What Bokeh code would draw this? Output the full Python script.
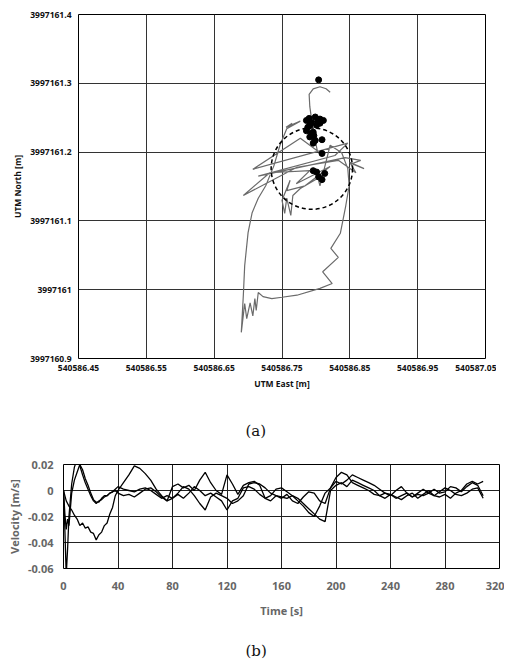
from bokeh.plotting import figure
from bokeh.models import FixedTicker, CustomJSTickFormatter, Title, Range1d
from bokeh.embed import file_html
from bokeh.resources import INLINE

# ---------------- data: (a) position plot ----------------
east_ticks = [540586.45, 540586.55, 540586.65, 540586.75, 540586.85, 540586.95, 540587.05]
north_ticks = [3997160.9, 3997161.0, 3997161.1, 3997161.2, 3997161.3, 3997161.4]

traj_east = [540586.821, 540586.815, 540586.806, 540586.796, 540586.790, 540586.791, 540586.793,
             540586.796, 540586.799, 540586.802, 540586.777, 540586.707, 540586.847, 540586.828,
             540586.715, 540586.843, 540586.866, 540586.853, 540586.871, 540586.850, 540586.859,
             540586.833, 540586.772, 540586.693, 540586.732, 540586.791, 540586.771, 540586.821,
             540586.784, 540586.757, 540586.762, 540586.750, 540586.754, 540586.757, 540586.763,
             540586.766, 540586.777, 540586.803, 540586.806, 540586.821, 540586.838, 540586.847,
             540586.849, 540586.844, 540586.836, 540586.822, 540586.833, 540586.810, 540586.824,
             540586.806, 540586.772, 540586.750, 540586.735, 540586.722, 540586.715, 540586.712,
             540586.710, 540586.707, 540586.703, 540586.698, 540586.695, 540586.690, 540586.693,
             540586.695, 540586.700, 540586.706, 540586.715, 540586.726, 540586.738, 540586.747,
             540586.757, 540586.777, 540586.756, 540586.765]
traj_north = [3997161.287, 3997161.292, 3997161.295, 3997161.292, 3997161.284, 3997161.266, 3997161.252,
              3997161.234, 3997161.217, 3997161.202, 3997161.220, 3997161.175, 3997161.213, 3997161.195,
              3997161.165, 3997161.192, 3997161.188, 3997161.183, 3997161.176, 3997161.185, 3997161.170,
              3997161.188, 3997161.178, 3997161.137, 3997161.170, 3997161.173, 3997161.154, 3997161.179,
              3997161.151, 3997161.144, 3997161.159, 3997161.130, 3997161.111, 3997161.133, 3997161.108,
              3997161.137, 3997161.147, 3997161.162, 3997161.151, 3997161.210, 3997161.199, 3997161.176,
              3997161.151, 3997161.122, 3997161.082, 3997161.060, 3997161.047, 3997161.026, 3997161.009,
              3997161.002, 3997160.992, 3997160.989, 3997160.987, 3997160.990, 3997160.996, 3997160.970,
              3997160.987, 3997160.962, 3997160.981, 3997160.958, 3997160.980, 3997160.938, 3997160.992,
              3997161.035, 3997161.083, 3997161.112, 3997161.133, 3997161.151, 3997161.180, 3997161.210,
              3997161.234, 3997161.245, 3997161.236, 3997161.242]

fix_east = [540586.804, 540586.786, 540586.799, 540586.806, 540586.811, 540586.791, 540586.801,
            540586.786, 540586.796, 540586.791, 540586.799, 540586.809, 540586.790, 540586.794,
            540586.803, 540586.788, 540586.806, 540586.793, 540586.797, 540586.796, 540586.809,
            540586.796, 540586.801, 540586.804, 540586.809, 540586.813]
fix_north = [3997161.305, 3997161.246, 3997161.251, 3997161.248, 3997161.246, 3997161.239, 3997161.239,
             3997161.231, 3997161.229, 3997161.222, 3997161.217, 3997161.218, 3997161.249, 3997161.243,
             3997161.245, 3997161.236, 3997161.242, 3997161.227, 3997161.224, 3997161.213, 3997161.198,
             3997161.173, 3997161.171, 3997161.164, 3997161.160, 3997161.169]

cep_east = [540586.794]
cep_north = [3997161.176]
cep_radius = 0.06

# ---------------- data: (b) velocity plot ----------------
time_ticks = [0, 40, 80, 120, 160, 200, 240, 280, 320]
vel_ticks = [-0.06, -0.04, -0.02, 0, 0.02]

time_s = [0, 1, 2, 3, 4, 6, 8, 10, 12, 14, 16, 18, 20, 22, 24, 26, 28, 30, 32, 34, 36, 38,
          40, 44, 48, 52, 56, 60, 64, 68, 72, 76, 80, 84, 88, 92, 96, 100, 104, 108, 112, 116,
          120, 124, 128, 132, 136, 140, 144, 148, 152, 156, 160, 164, 168, 172, 176, 180, 184, 188,
          192, 196, 200, 204, 208, 212, 216, 220, 224, 228, 232, 236, 240, 244, 248, 252, 256, 260,
          264, 268, 272, 276, 280, 284, 288, 292, 296, 300, 304, 308]

vel_1 = [0, -0.004, -0.008, -0.010, -0.012, -0.015, -0.019, -0.022, -0.027, -0.025, -0.029, -0.028,
         -0.032, -0.033, -0.038, -0.034, -0.032, -0.027, -0.025, -0.018, -0.013, -0.004,
         0.000, 0.006, 0.012, 0.019, 0.017, 0.013, 0.008, 0.001, -0.004, -0.008,
         -0.006, -0.002, 0.003, 0.001, -0.004, -0.010, -0.015, -0.005, -0.002, -0.004,
         -0.006, -0.010, -0.008, -0.004, 0.005, 0.006, 0.005, 0.002, -0.002, -0.004,
         -0.005, -0.006, -0.004, -0.008, -0.012, -0.017, -0.020, -0.012, -0.002, 0.002,
         0.010, 0.014, 0.012, 0.006, 0.004, 0.002, 0.000, -0.003, -0.004, -0.002,
         -0.003, -0.006, -0.004, -0.002, -0.005, -0.002, 0.001, -0.002, -0.004, -0.001,
         0.002, 0.000, -0.003, -0.004, -0.002, 0.001, 0.002, -0.006]
vel_2 = [0, -0.030, -0.065, -0.045, -0.020, 0.005, 0.018, 0.024, 0.019, 0.012, 0.006, 0.001,
         -0.004, -0.008, -0.010, -0.008, -0.007, -0.005, -0.004, -0.002, -0.001, 0.000,
         -0.002, -0.004, -0.003, -0.005, -0.002, 0.001, 0.002, -0.001, -0.005, -0.008,
         0.003, 0.005, 0.002, 0.004, 0.000, 0.008, 0.014, 0.006, 0.000, -0.003,
         0.012, 0.005, -0.003, 0.004, 0.006, 0.007, 0.004, -0.006, -0.008, -0.004,
         -0.006, -0.003, -0.008, -0.010, -0.005, -0.001, -0.002, -0.008, -0.010, 0.002,
         0.007, 0.005, 0.008, 0.012, 0.010, 0.008, 0.006, 0.004, 0.001, -0.002,
         -0.004, 0.000, 0.003, -0.002, -0.005, -0.003, -0.004, -0.002, 0.001, -0.002,
         -0.001, 0.003, 0.002, -0.001, 0.003, 0.006, 0.004, -0.004]
vel_3 = [0, -0.018, -0.030, -0.022, -0.027, -0.002, 0.008, 0.014, 0.020, 0.016, 0.009, 0.004,
         -0.002, -0.007, -0.009, -0.009, -0.006, -0.004, -0.004, -0.002, -0.001, 0.001,
         0.003, 0.001, 0.000, -0.001, 0.001, 0.002, 0.000, -0.003, -0.006, -0.004,
         -0.006, -0.003, -0.006, -0.002, 0.003, 0.000, -0.004, -0.002, -0.005, -0.008,
         -0.015, -0.008, -0.006, 0.002, 0.003, 0.001, -0.003, -0.006, -0.004, 0.001,
         0.002, -0.001, -0.004, -0.006, -0.010, -0.014, -0.018, -0.022, -0.024, 0.000,
         0.004, 0.006, 0.003, 0.008, 0.006, 0.004, 0.002, 0.000, -0.004, -0.006,
         -0.003, -0.005, -0.007, -0.004, -0.002, -0.006, -0.003, 0.000, -0.004, -0.005,
         -0.003, -0.006, -0.002, 0.000, 0.005, 0.007, 0.005, 0.007]

FONT = "Open Sans"


def style_axes(p, size, color, tick_standoff_x, label_standoff_x, tick_standoff_y, label_standoff_y):
    for ax in (p.xaxis, p.yaxis):
        ax.axis_line_color = None
        ax.major_tick_line_color = None
        ax.minor_tick_line_color = None
        ax.major_tick_out = 0
        ax.major_tick_in = 0
        ax.minor_tick_out = 0
        ax.minor_tick_in = 0
        ax.major_label_text_font = FONT
        ax.major_label_text_font_size = size
        ax.major_label_text_font_style = "bold"
        ax.major_label_text_color = color
        ax.axis_label_text_font = FONT
        ax.axis_label_text_font_size = size
        ax.axis_label_text_font_style = "bold"
        ax.axis_label_text_color = color
    p.xaxis.major_label_standoff = tick_standoff_x
    p.xaxis.axis_label_standoff = label_standoff_x
    p.yaxis.major_label_standoff = tick_standoff_y
    p.yaxis.axis_label_standoff = label_standoff_y


def add_caption(p, text, offset, gap):
    spacer = Title(text=" ", text_font_size="1px", standoff=gap)
    p.add_layout(spacer, "below")
    cap = Title(text=text, align="left", offset=offset, standoff=0,
                text_font="DejaVu Serif", text_font_size="15px",
                text_font_style="normal", text_color="#111111")
    p.add_layout(cap, "below")


# ---------------- figure (a) ----------------
p1 = figure(width=496, height=446, output_backend="svg", toolbar_location=None,
            x_range=Range1d(east_ticks[0], east_ticks[-1]),
            y_range=Range1d(north_ticks[0], north_ticks[-1]),
            min_border_left=78, min_border_right=11, min_border_top=14, min_border_bottom=88)
p1.outline_line_color = "black"
p1.outline_line_width = 1

xt1 = FixedTicker(ticks=east_ticks)
yt1 = FixedTicker(ticks=north_ticks)
p1.xaxis.ticker = xt1
p1.yaxis.ticker = yt1
p1.xgrid.ticker = xt1
p1.ygrid.ticker = yt1
fmt2 = CustomJSTickFormatter(code="return (Math.round(tick*100)/100).toString();")
p1.xaxis.formatter = fmt2
p1.yaxis.formatter = fmt2
for g in (p1.xgrid, p1.ygrid):
    g.grid_line_color = "#333333"
    g.grid_line_width = 1
style_axes(p1, "8.5px", "#111111", 6, 4, 7, 4)
p1.xaxis.axis_label = "UTM East [m]"
p1.yaxis.axis_label = "UTM North [m]"

p1.line(traj_east, traj_north, line_color="#6b6b6b", line_width=1.2)
p1.scatter(fix_east, fix_north, size=6, color="black")
p1.circle(x=cep_east, y=cep_north, radius=cep_radius, fill_color=None,
          line_color="black", line_width=1.5, line_dash="4 3")
add_caption(p1, "(a)", 167, 25)

# ---------------- figure (b) ----------------
p2 = figure(width=504, height=214, output_backend="svg", toolbar_location=None,
            x_range=Range1d(time_ticks[0], time_ticks[-1]),
            y_range=Range1d(vel_ticks[0], vel_ticks[-1]),
            min_border_left=63, min_border_right=5, min_border_top=18, min_border_bottom=92)
p2.outline_line_color = "black"
p2.outline_line_width = 1
xt2 = FixedTicker(ticks=time_ticks)
yt2 = FixedTicker(ticks=vel_ticks)
p2.xaxis.ticker = xt2
p2.yaxis.ticker = yt2
p2.xgrid.ticker = xt2
p2.ygrid.ticker = yt2
fmt3 = CustomJSTickFormatter(code="return (Math.round(tick*1000)/1000).toString();")
p2.xaxis.formatter = fmt3
p2.yaxis.formatter = fmt3
for g in (p2.xgrid, p2.ygrid):
    g.grid_line_color = "#222222"
    g.grid_line_width = 1
style_axes(p2, "11px", "#666666", 13, 10, 10, 3)
p2.xaxis.axis_label = "Time [s]"
p2.yaxis.axis_label = "Velocity [m/s]"

for v in (vel_1, vel_2, vel_3):
    p2.line(time_s, v, line_color="black", line_width=1.3)
add_caption(p2, "(b)", 182, 16)

open("out.html", "w").write(file_html([p1, p2], INLINE))
